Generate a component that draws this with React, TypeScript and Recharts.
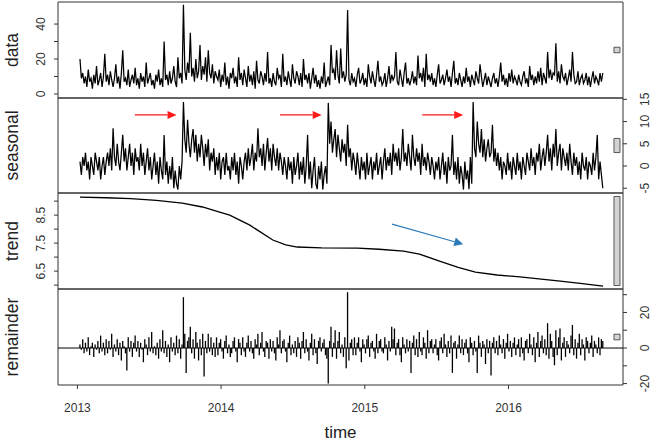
import * as React from "react";
import { ComposedChart, Line, Bar, XAxis, YAxis, ReferenceArea, ReferenceLine } from "recharts";

const W = 658;
const H = 444;
const plotLeft = 58;
const plotRight = 623;
const font = '"Liberation Sans", Arial, Helvetica, sans-serif';

const yearTicks = [2013, 2014, 2015, 2016];
const xDomain: [number, number] = [2012.865, 2016.797];

// twice-weekly samples, early Jan 2013 .. end of Aug 2016
const firstSample = 2013.018;
const sampleStep = 0.0096;

const dataValues = [
  20, 9, 12, 6, 10, 4, 14, 7, 9, 3, 11, 6, 16, 5, 8, 12, 4, 10, 23, 7,
  11, 5, 13, 8, 4, 9, 17, 6, 10, 3, 12, 25, 7, 9, 5, 14, 4, 8, 11, 6,
  15, 5, 9, 3, 12, 7, 10, 4, 18, 6, 9, 12, 5, 8, 3, 11, 7, 14, 5, 9,
  4, 30, 8, 11, 5, 13, 6, 9, 16, 7, 4, 21, 9, 12, 6, 51, 14, 8, 18, 12,
  35, 10, 15, 7, 20, 9, 13, 28, 8, 16, 11, 21, 7, 25, 12, 9, 17, 6, 13, 10,
  8, 14, 4, 11, 7, 18, 5, 10, 3, 12, 9, 15, 6, 10, 4, 21, 8, 12, 5, 14,
  9, 4, 16, 7, 11, 5, 13, 3, 19, 8, 6, 13, 10, 5, 12, 7, 24, 6, 9, 4,
  12, 7, 5, 15, 9, 11, 4, 23, 7, 10, 5, 13, 8, 4, 17, 9, 6, 13, 10, 5,
  12, 4, 20, 8, 11, 6, 12, 3, 9, 15, 6, 11, 4, 8, 3, 10, 6, 18, 4, 7,
  10, 5, 28, 12, 14, 8, 25, 11, 6, 26, 9, 13, 7, 11, 48, 8, 5, 12, 7, 9,
  4, 11, 15, 6, 8, 12, 5, 9, 4, 17, 10, 6, 13, 8, 4, 11, 19, 7, 10, 5,
  7, 12, 4, 9, 16, 6, 11, 8, 10, 24, 7, 5, 14, 9, 4, 12, 18, 6, 9, 5,
  8, 13, 6, 10, 5, 22, 9, 12, 7, 15, 4, 23, 8, 11, 7, 12, 5, 9, 4, 11,
  17, 6, 8, 11, 5, 9, 14, 7, 10, 4, 12, 19, 6, 9, 5, 12, 8, 4, 10, 6,
  15, 7, 10, 4, 11, 8, 5, 13, 9, 6, 17, 10, 4, 8, 12, 5, 10, 7, 4, 9,
  12, 6, 9, 4, 10, 18, 7, 11, 5, 9, 4, 12, 7, 14, 6, 10, 8, 5, 11, 7,
  5, 10, 13, 6, 9, 4, 16, 8, 11, 5, 10, 6, 13, 7, 15, 5, 12, 9, 6, 24,
  9, 14, 8, 12, 11, 29, 7, 13, 6, 17, 10, 8, 12, 5, 9, 14, 7, 24, 11, 6,
  7, 13, 5, 9, 11, 6, 8, 12, 5, 10, 4, 9, 13, 6, 10, 8, 5, 12, 7, 12,
];

const seasonalValues = [
  1, -2, 2, 0, 3, -1, 1, -3, 2, 0, -2, 3, 1, -1, 2, -3, 0, 2, -2, 1,
  3, 0, 4, -1, 8.5, 2, 0, 5, 1, -1, 3, 7, 1, 4, -1, 2, 5, 0, 3, -2,
  4, 1, 2, -1, 5, 0, 3, -2, 1, 4, -1, 2, -3, 0, 3, -2, 1, -4, 2, -1,
  -3, 7, -2, 1, -4, 0, -3, 2, -5, -1, -4, -5.3, 0, -3, 1, 14.4, 6, 3, 10.4, 5,
  2, 6, 8.3, 3, 7, 1, 5, 2, 7, 4, 0, 5, 2, 6, -1, 3, 1, 4, -2, 2,
  -1, 3, -3, 1, 2, -2, 3, -1, 0, -3, 2, -1, 3, -2, 1, -4, 2, 0, -3, 1,
  3, -1, 4, 0, 2, 5, -1, 3, 1, 8.5, 2, 4, 0, 5, -1, 3, 6.3, 1, 4, -1,
  5, 2, 0, 4, -1, 3, 1, -2, 2, 0, -3, 2, -1, 1, -4, 2, -2, 0, 3, -3,
  1, -2, 2, -4, 0, 7, -3, 1, -5, -1, 2, -4, -5.2, 0, -3, 1, -5.3, -2, 0, -4,
  14.2, 5, 10, 3, 6, 8.3, 2, 7, 4, 1, 6, 3, 5, 0, 9.3, 2, 4, -1, 3, 1,
  -2, 3, 0, -3, 2, -1, 1, -3, 3, -2, 0, 2, -3, 1, -1, 3, -2, 0, 2, -3,
  1, 4, -1, 2, 0, 3, -2, 5, 1, 3, 0, 4, -1, 2, 8.3, 1, 3, 0, 5, 2,
  -1, 7, 2, 0, 4, 1, 3, -2, 5, 0, 2, -1, 3, 1, -2, 2, 0, -3, 1, -1,
  2, -3, 0, 3, -2, 1, -4, 2, -1, 0, 7, -2, 1, -3, 2, -4, 0, -2, -5.3, 1,
  -3, -1, -5.2, 2, -4, 14.4, 4, 2, 10, 5, 3, 8.3, 2, 6, 1, 4, 6, 2, 3, 9.3,
  1, 4, 0, 3, -1, 2, -3, 1, 0, -2, 3, -1, 1, -3, 2, 0, -2, 3, -1, 1,
  -3, 2, 0, -2, 3, 1, -1, 4, 0, 2, -2, 3, 1, 5, -1, 2, 4, 0, 3, 7,
  1, 4, -1, 5, 2, 8.3, 0, 3, 5, -1, 4, 2, 0, 3, -1, 5, 1, -2, 3, 0,
  2, -2, 1, -3, 3, 0, -1, 2, -3, 1, 0, -2, 3, -1, 2, 7, -3, 1, -2, -5,
];

const remainderValues = [
  2, -1, 5, -3, 3, -2, 6, -4, 1, 3, -5, 2, -1, 4, -3, 7, -2, 3, -4, 5,
  -3, 4, -1, 8, -5, 2, -2, 5, -4, 3, -7, 4, 1, -3, -12.6, 6, -2, 4, -5, 3,
  7, -2, 4, -5, 3, -1, -8, 5, 2, -4, 6, -2, 9, -3, 1, -4, 3, -6, 5, -2,
  10, -3, 4, -5, 2, -8, 6, -2, 3, -4, 7, -3, 5, -6, 2, 28.6, 8, -14, 4, 6,
  12, -3, 5, -6, 9, 3, -7, 5, -4, 8, -16, 4, -3, 8, -2, 6, -4, 3, -5, 6,
  -4, 3, 5, -2, -6, 4, 7, -3, 2, -5, -3, 4, 6, -2, -8, 5, 3, -4, 6, -2,
  -5, 3, 7, -2, 4, -3, -6, 5, 2, 8, -4, 3, 9, -2, -5, 4, 3, -6, 5, -2,
  4, -3, -7, 6, 2, 10, -3, 4, 5, -2, -8, 3, 7, -4, 2, -3, 4, -5, 6, 3,
  -6, 4, 9, -3, 5, -2, -7, 3, 8, -4, 5, -3, -9, 4, 6, -2, 3, 5, -4, -6,
  -20, 4, 12, -5, 3, 10, -6, 4, 9, -3, 2, -5, 6, -11.4, 31.4, -7, 3, 5, -4, 6,
  -4, 3, 6, -2, -8, 5, 2, -3, 5, 7, -5, 3, 4, -2, -6, 8, -3, 4, 5, -2,
  -3, 6, 2, -7, 4, -2, 12, 5, 11, -4, 3, 5, -4, -8, 6, 2, -3, 5, -2, 4,
  -14, 3, 7, -4, 5, -5, 9, -2, -4, 6, 3, -6, 10, -3, 4, 5, -3, 2, 5, -4,
  -7, 4, 6, -3, 8, 2, -5, 4, -3, 7, -14, 3, 4, -6, 2, 7, -3, 5, -4, 3,
  5, -3, -8, 6, 3, -4, 4, -2, -14, 7, 3, -5, 4, 2, -9, 5, -3, 4, -15.4, 3,
  6, -3, 4, -4, 7, 2, -3, 5, -6, 3, 8, -2, 4, -5, 3, 6, -4, 2, 5, -5,
  6, -3, -7, 4, 5, -3, 8, 2, -4, 6, -8, 3, 9, -5, 4, 7, -3, 5, -4, 14,
  -6, 8, 4, -5, -9.7, 10, -4, 6, 11, -7, 3, 6, -5, 4, 2, -3, 7, 13, -4, 5,
  -6, 3, 8, -4, 5, 2, -7, 6, 4, -3, 3, 7, -5, 4, 2, -3, 6, -4, 5, 4,
];

const trendYears = [
  2013.018, 2013.2, 2013.37, 2013.55, 2013.73, 2013.87, 2013.99, 2014.06,
  2014.2, 2014.36, 2014.45, 2014.53, 2014.7, 2014.95, 2015.1, 2015.27,
  2015.38, 2015.52, 2015.65, 2015.77, 2015.92, 2016.08, 2016.36, 2016.5, 2016.658,
];
const trendValues = [
  9.14, 9.12, 9.09, 9.03, 8.93, 8.79, 8.61, 8.5,
  8.14, 7.61, 7.44, 7.36, 7.33, 7.32, 7.28, 7.21,
  7.11, 6.86, 6.63, 6.46, 6.36, 6.29, 6.14, 6.06, 5.96,
];

// annotations drawn on the original figure
const redArrowFrom = [2013.4, 2014.41, 2015.4];
const redArrowTo = [2013.69, 2014.7, 2015.685];
const redArrowLevel = 11.5;
const blueArrowFrom = { x: 2015.19, y: 8.18 };
const blueArrowTo = { x: 2015.685, y: 7.46 };

// grey range bars at the right edge, same height in data units in every panel
const rangeBarX: [number, number] = [2016.734, 2016.776];
const rangeBarHalf = 1.59;

const sampleRows = dataValues.map((v, i) => ({
  t: firstSample + i * sampleStep,
  data: v,
  seasonal: seasonalValues[i],
  remainder: remainderValues[i],
}));
const trendRows = trendYears.map((t, i) => ({ t, trend: trendValues[i] }));

const rotatedTick = (labels: number[]) => (p: any) => {
  const v = p.payload.value;
  if (!labels.includes(v)) return <g />;
  return (
    <text
      x={p.x}
      y={p.y}
      transform={`rotate(-90 ${p.x} ${p.y})`}
      textAnchor="middle"
      dominantBaseline="central"
      fontSize={12}
      fontFamily={font}
      fill="#333"
    >
      {String(v)}
    </text>
  );
};

const yearTick = (p: any) => (
  <text x={p.x} y={p.y} textAnchor="middle" dominantBaseline="central" fontSize={12} fontFamily={font} fill="#333">
    {p.payload.value}
  </text>
);

const SideTitle = ({ caption, mid }: any) => (
  <text
    x={12}
    y={mid}
    transform={`rotate(-90 12 ${mid})`}
    textAnchor="middle"
    dominantBaseline="central"
    fontSize={17.5}
    fontFamily={font}
    fill="#222"
  >
    {caption}
  </text>
);

const TimeTitle = (p: any) => {
  const vb = p.viewBox && p.viewBox.width ? p.viewBox : { x: plotLeft, y: 385, width: plotRight - plotLeft };
  return (
    <text x={vb.x + vb.width / 2} y={vb.y + 47} textAnchor="middle" dominantBaseline="central" fontSize={17} fontFamily={font} fill="#222">
      time
    </text>
  );
};

const arrowShape = (color: string, head: number, halfW: number) => (p: any) => {
  const { x1, y1, x2, y2 } = p;
  const dx = x2 - x1;
  const dy = y2 - y1;
  const len = Math.hypot(dx, dy) || 1;
  const ux = dx / len;
  const uy = dy / len;
  const bx = x2 - ux * head;
  const by = y2 - uy * head;
  const px = -uy * halfW;
  const py = ux * halfW;
  return (
    <g>
      <line x1={x1} y1={y1} x2={bx} y2={by} stroke={color} strokeWidth={1.2} />
      <polygon points={`${x2},${y2} ${bx + px},${by + py} ${bx - px},${by - py}`} fill={color} />
    </g>
  );
};

function Panel({ rows, top, bottom, domain, ticks, labels, side, caption, last, children }: any) {
  const xh = last ? 50 : 20;
  const margin = { top, bottom: H - bottom - xh, left: plotLeft - 30, right: W - plotRight - 30 };
  const mid = (domain[0] + domain[1]) / 2;
  return (
    <div style={{ position: "absolute", left: 0, top: 0 }}>
      <ComposedChart width={W} height={H} data={rows} margin={margin}>
        <XAxis
          type="number"
          dataKey="t"
          domain={xDomain}
          allowDataOverflow
          ticks={yearTicks}
          interval={0}
          height={xh}
          axisLine={false}
          tickLine={{ stroke: "#333" }}
          tickSize={4}
          tickMargin={19}
          tick={last ? yearTick : false}
          label={last ? <TimeTitle /> : undefined}
        />
        <YAxis
          yAxisId="l"
          orientation="left"
          width={30}
          type="number"
          domain={domain}
          allowDataOverflow
          ticks={ticks}
          interval={0}
          axisLine={false}
          tickLine={{ stroke: "#333" }}
          tickSize={4}
          tickMargin={13}
          tick={side === "left" ? rotatedTick(labels) : false}
          label={<SideTitle caption={caption} mid={(top + bottom) / 2} />}
        />
        <YAxis
          yAxisId="r"
          orientation="right"
          width={30}
          type="number"
          domain={domain}
          allowDataOverflow
          ticks={ticks}
          interval={0}
          axisLine={false}
          tickLine={{ stroke: "#333" }}
          tickSize={4}
          tickMargin={18}
          tick={side === "right" ? rotatedTick(labels) : false}
        />
        {children}
        <ReferenceArea
          yAxisId="l"
          x1={rangeBarX[0]}
          x2={rangeBarX[1]}
          y1={mid - rangeBarHalf}
          y2={mid + rangeBarHalf}
          fill="#d3d3d3"
          fillOpacity={1}
          stroke="#333"
          strokeWidth={0.8}
          ifOverflow="visible"
        />
        <ReferenceArea
          yAxisId="l"
          x1={xDomain[0]}
          x2={xDomain[1]}
          y1={domain[0]}
          y2={domain[1]}
          fill="none"
          stroke="#333"
          strokeWidth={1}
          ifOverflow="visible"
        />
      </ComposedChart>
    </div>
  );
}

export default function App() {
  return (
    <div style={{ position: "relative", width: W, height: H, background: "#fff", fontFamily: font }}>
      <style>{"body{margin:0;background:#fff}"}</style>
      <Panel rows={sampleRows} top={2} bottom={98} domain={[-2.3, 52.6]} ticks={[0, 10, 20, 30, 40]} labels={[0, 20, 40]} side="left" caption="data">
        <Line yAxisId="l" type="linear" dataKey="data" stroke="#000" strokeWidth={1.25} dot={false} isAnimationActive={false} />
      </Panel>
      <Panel rows={sampleRows} top={98} bottom={193} domain={[-6.07, 15.3]} ticks={[-5, 0, 5, 10, 15]} labels={[-5, 0, 5, 10, 15]} side="right" caption="seasonal">
        <Line yAxisId="l" type="linear" dataKey="seasonal" stroke="#000" strokeWidth={1.25} dot={false} isAnimationActive={false} />
        {redArrowFrom.map((x, i) => (
          <ReferenceLine
            key={i}
            yAxisId="l"
            segment={[{ x, y: redArrowLevel }, { x: redArrowTo[i], y: redArrowLevel }]}
            stroke="#ff1a1a"
            shape={arrowShape("#ff1a1a", 9, 4)}
          />
        ))}
      </Panel>
      <Panel rows={trendRows} top={193} bottom={289} domain={[5.86, 9.29]} ticks={[6, 6.5, 7, 7.5, 8, 8.5, 9]} labels={[6.5, 7.5, 8.5]} side="left" caption="trend">
        <Line yAxisId="l" type="linear" dataKey="trend" stroke="#000" strokeWidth={1.3} dot={false} isAnimationActive={false} />
        <ReferenceLine
          yAxisId="l"
          segment={[blueArrowFrom, blueArrowTo]}
          stroke="#2b7bba"
          shape={arrowShape("#2b7bba", 9, 4.5)}
        />
      </Panel>
      <Panel rows={sampleRows} top={289} bottom={385} domain={[-20.8, 33.2]} ticks={[-20, -10, 0, 10, 20, 30]} labels={[-20, 0, 20]} side="right" caption="remainder" last>
        <ReferenceLine yAxisId="l" y={0} stroke="#000" strokeWidth={1} />
        <Bar yAxisId="l" dataKey="remainder" fill="#000" barSize={1.3} isAnimationActive={false} />
      </Panel>
    </div>
  );
}
